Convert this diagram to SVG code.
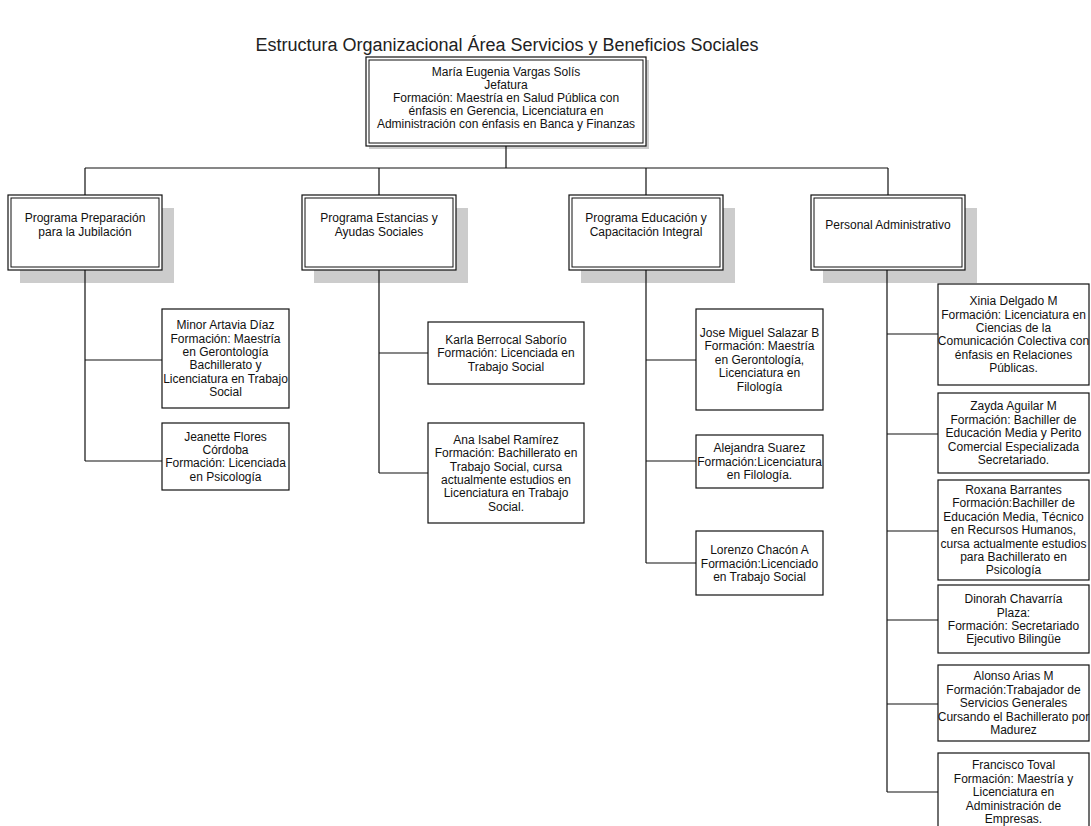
<svg xmlns="http://www.w3.org/2000/svg" width="1091" height="826" viewBox="0 0 1091 826">
<style>
text{font-family:"Liberation Sans",Arial,sans-serif;font-size:12px;fill:#111;text-anchor:middle}
.title{font-size:18px;fill:#222}
.box{fill:#fff;stroke:#111;stroke-width:1.2}
.inner{fill:none;stroke:#111;stroke-width:1}
.shadow{fill:#cccccc;stroke:none}
.leaf{fill:#fff;stroke:#111;stroke-width:1.2}
.conn{fill:none;stroke:#111;stroke-width:1.2}
</style>
<rect width="1091" height="826" fill="#fff"/>
<text class="title" x="507" y="51">Estructura Organizacional Área Servicios y Beneficios Sociales</text>

<g id="leaves">
<g id="n-minor"><rect class="leaf" x="162" y="309" width="127" height="99"/>
<text x="225.5" y="329.2"><tspan x="225.5">Minor Artavia Díaz</tspan><tspan x="225.5" dy="13.4">Formación: Maestría</tspan><tspan x="225.5" dy="13.4">en Gerontología</tspan><tspan x="225.5" dy="13.4">Bachillerato y</tspan><tspan x="225.5" dy="13.4">Licenciatura en Trabajo</tspan><tspan x="225.5" dy="13.4">Social</tspan></text></g>
<g id="n-jeanette"><rect class="leaf" x="162" y="423" width="127" height="67"/>
<text x="225.5" y="440.6"><tspan x="225.5">Jeanette Flores</tspan><tspan x="225.5" dy="13.4">Córdoba</tspan><tspan x="225.5" dy="13.4">Formación: Licenciada</tspan><tspan x="225.5" dy="13.4">en Psicología</tspan></text></g>
<g id="n-karla"><rect class="leaf" x="428" y="322" width="156" height="62"/>
<text x="506" y="343.8"><tspan x="506">Karla Berrocal Saborío</tspan><tspan x="506" dy="13.4">Formación: Licenciada en</tspan><tspan x="506" dy="13.4">Trabajo Social</tspan></text></g>
<g id="n-ana"><rect class="leaf" x="428" y="423" width="156" height="100"/>
<text x="506" y="443.7"><tspan x="506">Ana Isabel Ramírez</tspan><tspan x="506" dy="13.4">Formación: Bachillerato en</tspan><tspan x="506" dy="13.4">Trabajo Social, cursa</tspan><tspan x="506" dy="13.4">actualmente estudios en</tspan><tspan x="506" dy="13.4">Licenciatura en Trabajo</tspan><tspan x="506" dy="13.4">Social.</tspan></text></g>
<g id="n-jose"><rect class="leaf" x="696" y="309" width="127" height="101"/>
<text x="759.5" y="336.9"><tspan x="759.5">Jose Miguel Salazar B</tspan><tspan x="759.5" dy="13.4">Formación: Maestría</tspan><tspan x="759.5" dy="13.4">en Gerontología,</tspan><tspan x="759.5" dy="13.4">Licenciatura en</tspan><tspan x="759.5" dy="13.4">Filología</tspan></text></g>
<g id="n-alejandra"><rect class="leaf" x="696" y="435" width="127" height="53"/>
<text x="759.5" y="452.3"><tspan x="759.5">Alejandra Suarez</tspan><tspan x="759.5" dy="13.4">Formación:Licenciatura</tspan><tspan x="759.5" dy="13.4">en Filología.</tspan></text></g>
<g id="n-lorenzo"><rect class="leaf" x="696" y="531" width="127" height="64"/>
<text x="759.5" y="554.3"><tspan x="759.5">Lorenzo Chacón A</tspan><tspan x="759.5" dy="13.4">Formación:Licenciado</tspan><tspan x="759.5" dy="13.4">en Trabajo Social</tspan></text></g>
<g id="n-xinia"><rect class="leaf" x="938" y="284" width="151" height="101"/>
<text x="1013.5" y="305.2"><tspan x="1013.5">Xinia Delgado M</tspan><tspan x="1013.5" dy="13.4">Formación: Licenciatura en</tspan><tspan x="1013.5" dy="13.4">Ciencias de la</tspan><tspan x="1013.5" dy="13.4">Comunicación Colectiva con</tspan><tspan x="1013.5" dy="13.4">énfasis en Relaciones</tspan><tspan x="1013.5" dy="13.4">Públicas.</tspan></text></g>
<g id="n-zayda"><rect class="leaf" x="938" y="393" width="151" height="80"/>
<text x="1013.5" y="410.4"><tspan x="1013.5">Zayda Aguilar M</tspan><tspan x="1013.5" dy="13.4">Formación: Bachiller de</tspan><tspan x="1013.5" dy="13.4">Educación Media y Perito</tspan><tspan x="1013.5" dy="13.4">Comercial Especializada</tspan><tspan x="1013.5" dy="13.4">Secretariado.</tspan></text></g>
<g id="n-roxana"><rect class="leaf" x="938" y="480" width="151" height="100"/>
<text x="1013.5" y="494"><tspan x="1013.5">Roxana Barrantes</tspan><tspan x="1013.5" dy="13.4">Formación:Bachiller de</tspan><tspan x="1013.5" dy="13.4">Educación Media, Técnico</tspan><tspan x="1013.5" dy="13.4">en Recursos Humanos,</tspan><tspan x="1013.5" dy="13.4">cursa actualmente estudios</tspan><tspan x="1013.5" dy="13.4">para Bachillerato en</tspan><tspan x="1013.5" dy="13.4">Psicología</tspan></text></g>
<g id="n-dinorah"><rect class="leaf" x="938" y="585" width="151" height="68"/>
<text x="1013.5" y="603.1"><tspan x="1013.5">Dinorah Chavarría</tspan><tspan x="1013.5" dy="13.4">Plaza:</tspan><tspan x="1013.5" dy="13.4">Formación: Secretariado</tspan><tspan x="1013.5" dy="13.4">Ejecutivo Bilingüe</tspan></text></g>
<g id="n-alonso"><rect class="leaf" x="938" y="665" width="151" height="76"/>
<text x="1013.5" y="680.4"><tspan x="1013.5">Alonso Arias M</tspan><tspan x="1013.5" dy="13.4">Formación:Trabajador de</tspan><tspan x="1013.5" dy="13.4">Servicios Generales</tspan><tspan x="1013.5" dy="13.4">Cursando el Bachillerato por</tspan><tspan x="1013.5" dy="13.4">Madurez</tspan></text></g>
<g id="n-francisco"><rect class="leaf" x="938" y="753" width="151" height="78"/>
<text x="1013.5" y="769.4"><tspan x="1013.5">Francisco Toval</tspan><tspan x="1013.5" dy="13.4">Formación: Maestría y</tspan><tspan x="1013.5" dy="13.4">Licenciatura en</tspan><tspan x="1013.5" dy="13.4">Administración de</tspan><tspan x="1013.5" dy="13.4">Empresas.</tspan></text></g>
</g>

<g id="n-jefatura">
<rect class="shadow" x="369" y="60" width="280" height="89"/>
<rect class="box" x="366" y="57" width="280" height="89"/>
<rect class="inner" x="369" y="60" width="274" height="83"/>
<text x="506" y="76"><tspan x="506">María Eugenia Vargas Solís</tspan><tspan x="506" dy="13">Jefatura</tspan><tspan x="506" dy="13">Formación: Maestría en Salud Pública con</tspan><tspan x="506" dy="13">énfasis en Gerencia, Licenciatura en</tspan><tspan x="506" dy="13">Administración con énfasis en Banca y Finanzas</tspan></text>
</g>

<g id="n-jubilacion">
<rect class="shadow" x="20" y="208" width="154" height="75"/>
<rect class="box" x="8" y="195" width="154" height="75"/>
<rect class="inner" x="11" y="198" width="148" height="69"/>
<text x="85" y="222"><tspan x="85">Programa Preparación</tspan><tspan x="85" dy="14">para la Jubilación</tspan></text>
</g>
<g id="n-estancias">
<rect class="shadow" x="314" y="208" width="154" height="75"/>
<rect class="box" x="302" y="195" width="154" height="75"/>
<rect class="inner" x="305" y="198" width="148" height="69"/>
<text x="379" y="222"><tspan x="379">Programa Estancias y</tspan><tspan x="379" dy="14">Ayudas Sociales</tspan></text>
</g>
<g id="n-educacion">
<rect class="shadow" x="581" y="208" width="154" height="75"/>
<rect class="box" x="569" y="195" width="154" height="75"/>
<rect class="inner" x="572" y="198" width="148" height="69"/>
<text x="646" y="222"><tspan x="646">Programa Educación y</tspan><tspan x="646" dy="14">Capacitación Integral</tspan></text>
</g>
<g id="n-administrativo">
<rect class="shadow" x="823" y="208" width="154" height="75"/>
<rect class="box" x="811" y="195" width="154" height="75"/>
<rect class="inner" x="814" y="198" width="148" height="69"/>
<text x="888" y="229">Personal Administrativo</text>
</g>

<g id="connectors">
<path class="conn" d="M506,146V168M85,168H888M85,168V195M379,168V195M646,168V195M888,168V195"/>
<path class="conn" d="M85,270V461M85,360H162M85,461H162"/>
<path class="conn" d="M379,270V473M379,353H428M379,473H428"/>
<path class="conn" d="M646,270V563M646,360H696M646,461H696M646,563H696"/>
<path class="conn" d="M887,270V792M887,334H938M887,434H938M887,531H938M887,620H938M887,704H938M887,792H938"/>
</g>
</svg>
